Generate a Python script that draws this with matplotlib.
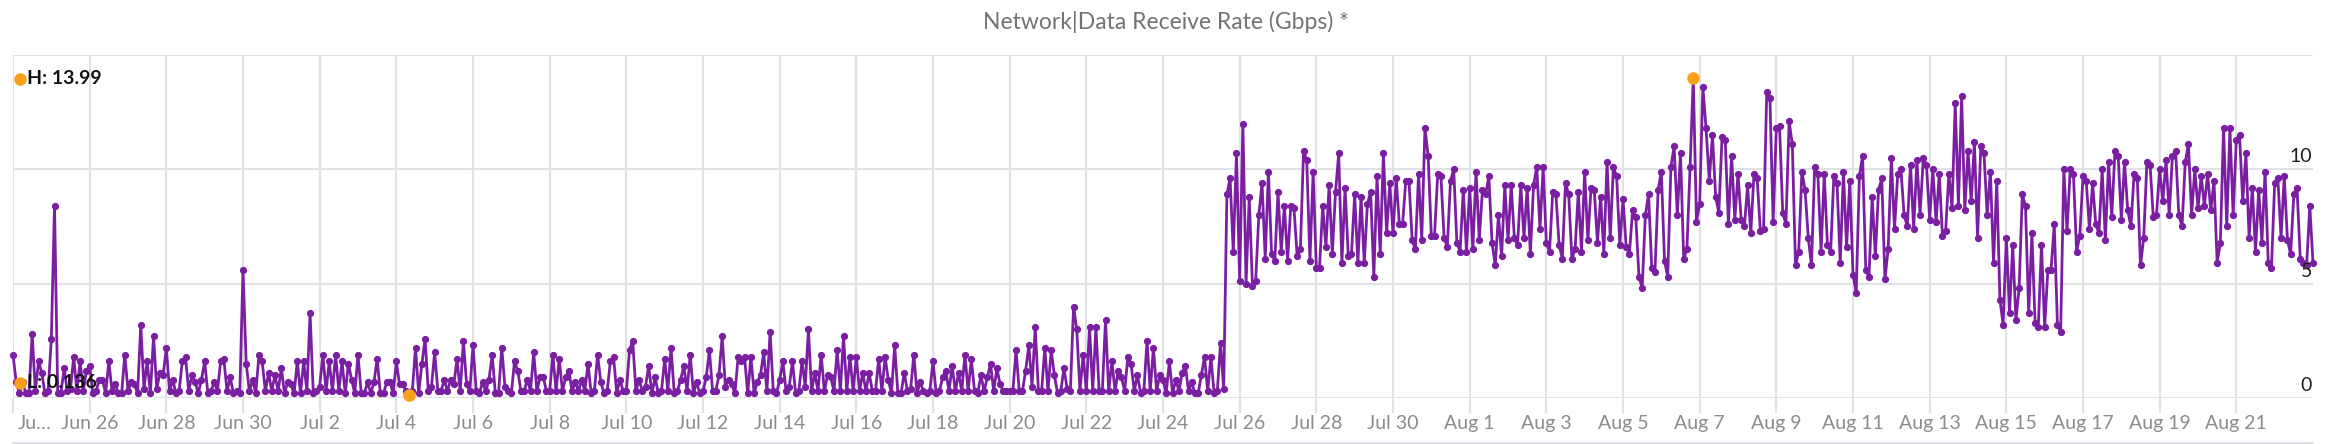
import numpy as np
import pandas as pd
import matplotlib
matplotlib.use("Agg")
import matplotlib.pyplot as plt
from matplotlib.lines import Line2D
from matplotlib.transforms import blended_transform_factory, offset_copy

plt.rcParams['font.family'] = ['Lato', 'DejaVu Sans']

# 2-hourly samples, 12 per day, starting Jun 24 00:00
start = "2023-06-24"
step = "2h"
title = "Network|Data Receive Rate (Gbps) *"
y_labels = [0, 5, 10]

june = [
    [1.9, 0.7, 0.2, 0.7, 0.2, 0.2, 2.8, 0.3, 1.6, 1.1, 0.2, 0.3],   # 24
    [2.6, 8.4, 0.2, 0.2, 1.3, 0.3, 0.4, 1.8, 0.3, 1.6, 0.3, 1.2],   # 25
    [1.4, 0.2, 0.3, 0.8, 0.8, 0.2, 1.6, 0.3, 0.6, 0.2, 0.2, 1.9],   # 26
    [0.3, 0.7, 0.6, 0.2, 3.2, 0.4, 1.6, 0.2, 2.7, 0.4, 1.1, 1.0],   # 27
    [2.2, 0.3, 0.8, 0.2, 0.3, 1.6, 1.8, 0.3, 1.0, 0.7, 0.2, 0.8],   # 28
    [1.6, 0.2, 0.3, 0.7, 0.3, 1.6, 1.7, 0.3, 0.9, 0.2, 0.3, 0.2],   # 29
    [5.6, 1.5, 0.3, 0.8, 0.2, 1.9, 1.6, 0.3, 1.1, 0.3, 1.0, 0.3],   # 30
]

july = [
    [1.3, 0.2, 0.7, 0.6, 0.2, 1.6, 0.2, 1.6, 0.3, 3.7, 0.2, 0.3],   # 1
    [0.5, 1.9, 0.3, 1.6, 0.3, 1.9, 0.3, 1.6, 0.2, 1.5, 0.8, 0.2],   # 2
    [1.9, 0.2, 0.2, 0.7, 0.2, 0.7, 1.7, 0.2, 0.2, 0.7, 0.7, 0.2],   # 3
    [1.6, 0.6, 0.6, 0.3, 0.136, 0.3, 2.2, 0.2, 1.5, 2.6, 0.3, 0.5], # 4
    [2.0, 0.3, 0.3, 0.8, 0.3, 0.8, 0.6, 1.7, 0.3, 2.5, 0.6, 0.3],   # 5
    [2.3, 0.3, 0.2, 0.7, 0.3, 0.8, 1.9, 0.2, 0.2, 2.2, 0.5, 0.3],   # 6
    [0.2, 1.6, 1.2, 0.3, 0.3, 0.8, 0.3, 2.0, 0.3, 0.9, 0.9, 0.3],   # 7
    [0.3, 1.9, 0.3, 1.7, 0.3, 0.9, 1.2, 0.3, 0.7, 0.3, 0.8, 0.3],   # 8
    [1.5, 0.2, 0.3, 1.9, 0.7, 0.2, 0.3, 1.6, 1.8, 0.2, 0.8, 0.3],   # 9
    [0.3, 2.1, 2.5, 0.3, 0.8, 0.3, 0.5, 1.4, 0.2, 0.9, 0.2, 0.3],   # 10
    [1.7, 0.3, 2.2, 0.2, 0.3, 0.8, 1.4, 0.3, 1.9, 0.2, 0.7, 0.2],   # 11
    [0.3, 0.9, 2.1, 0.3, 0.3, 1.0, 2.7, 0.5, 0.8, 0.6, 0.2, 1.8],   # 12
    [1.6, 1.8, 0.2, 1.8, 0.2, 0.7, 1.0, 2.0, 0.3, 2.9, 0.3, 0.2],   # 13
    [0.8, 1.6, 0.3, 0.5, 1.6, 0.2, 0.3, 1.6, 0.5, 3.0, 0.3, 1.1],   # 14
    [0.3, 1.9, 0.3, 1.0, 0.9, 0.3, 2.1, 0.3, 2.7, 0.3, 1.8, 0.3],   # 15
    [1.8, 0.3, 1.1, 0.3, 1.1, 0.3, 0.3, 1.7, 0.3, 1.8, 0.8, 0.2],   # 16
    [2.3, 0.2, 0.2, 1.1, 0.3, 0.4, 1.9, 0.2, 0.7, 0.3, 0.2, 0.3],   # 17
    [1.6, 0.2, 0.3, 0.9, 1.2, 0.3, 1.4, 0.3, 1.1, 0.3, 1.9, 0.3],   # 18
    [1.7, 0.3, 0.2, 1.0, 0.3, 0.9, 1.5, 0.3, 1.3, 0.6, 0.3, 0.3],   # 19
    [0.3, 0.3, 2.1, 0.3, 0.3, 1.2, 2.3, 0.5, 3.1, 0.3, 0.3, 2.2],   # 20
    [0.3, 2.1, 1.0, 0.2, 0.3, 1.3, 0.4, 0.3, 4.0, 3.0, 0.3, 1.9],   # 21
    [0.3, 3.1, 0.3, 3.1, 0.3, 0.3, 3.4, 0.3, 1.6, 0.3, 1.2, 0.9],   # 22
    [0.3, 1.8, 1.5, 0.3, 1.0, 0.2, 0.3, 2.5, 0.3, 2.2, 0.3, 1.0],   # 23
    [0.8, 0.2, 1.6, 0.2, 0.8, 0.3, 1.1, 1.4, 0.3, 0.7, 0.2, 0.2],   # 24
    [1.0, 1.8, 0.3, 1.8, 0.2, 0.3, 2.4, 0.4, 8.9, 9.6, 6.4, 10.7],  # 25
    [5.1, 12.0, 5.0, 8.8, 4.9, 5.1, 8.0, 9.4, 6.1, 9.9, 6.3, 6.0],  # 26
    [9.0, 6.4, 8.4, 6.0, 8.4, 8.3, 6.2, 6.5, 10.8, 10.4, 6.0, 9.9], # 27
    [5.7, 5.7, 8.4, 6.6, 9.3, 6.3, 9.0, 10.7, 5.9, 9.2, 6.2, 6.3],  # 28
    [8.9, 5.9, 8.8, 5.9, 8.5, 9.0, 5.3, 9.7, 6.3, 10.7, 7.2, 9.4],  # 29
    [7.2, 9.6, 7.6, 7.6, 9.5, 9.5, 6.9, 6.5, 9.8, 6.9, 11.8, 10.6], # 30
    [7.1, 7.1, 9.8, 9.7, 7.0, 6.6, 9.5, 10.0, 6.8, 6.4, 9.1, 6.4],  # 31
]

august = [
    [9.2, 6.5, 9.9, 6.9, 9.1, 8.9, 9.7, 6.8, 5.8, 8.0, 6.2, 9.3],     # 1
    [6.9, 9.3, 7.0, 6.7, 9.3, 7.0, 9.2, 6.3, 9.3, 10.1, 7.4, 10.1],   # 2
    [6.8, 6.4, 9.0, 8.9, 6.7, 6.1, 9.4, 8.9, 6.1, 6.5, 9.0, 6.4],     # 3
    [9.9, 6.9, 9.2, 9.1, 6.8, 8.8, 6.3, 10.3, 7.0, 10.1, 9.7, 6.7],   # 4
    [8.7, 6.6, 6.3, 8.2, 7.9, 5.3, 4.8, 8.0, 8.9, 5.7, 5.5, 9.1],     # 5
    [9.9, 6.0, 5.3, 10.1, 11.0, 8.0, 10.7, 6.1, 6.5, 10.1, 13.99, 7.7], # 6
    [8.5, 13.6, 11.8, 9.5, 11.5, 8.8, 8.1, 11.4, 11.3, 7.6, 10.6, 7.8], # 7
    [9.8, 7.8, 7.5, 9.3, 7.2, 9.8, 9.6, 7.3, 7.4, 13.4, 13.1, 7.7],   # 8
    [11.8, 11.9, 8.1, 7.6, 12.1, 11.1, 5.8, 6.4, 9.9, 9.1, 7.0, 5.8], # 9
    [10.1, 9.8, 6.4, 9.8, 6.7, 6.4, 9.7, 9.4, 5.9, 9.9, 6.6, 9.5],    # 10
    [5.4, 4.6, 9.7, 10.6, 5.6, 5.3, 8.8, 6.2, 9.1, 9.6, 5.2, 6.5],    # 11
    [10.5, 7.4, 9.8, 10.0, 8.0, 7.5, 10.2, 7.4, 10.4, 8.0, 10.5, 10.2], # 12
    [7.8, 10.0, 7.7, 9.8, 7.1, 7.3, 9.8, 8.3, 12.9, 8.4, 13.2, 8.2],  # 13
    [10.8, 8.6, 11.2, 7.0, 11.0, 10.7, 8.0, 9.9, 5.9, 9.5, 4.3, 3.2], # 14
    [7.0, 3.7, 6.7, 3.4, 4.8, 8.9, 8.4, 3.7, 7.2, 3.3, 3.1, 6.7],     # 15
    [3.1, 5.6, 5.6, 7.6, 3.2, 2.9, 10.0, 7.3, 10.0, 9.8, 6.4, 7.1],   # 16
    [9.7, 9.5, 7.4, 9.4, 7.6, 7.2, 10.0, 6.9, 10.3, 7.9, 10.8, 10.6], # 17
    [7.8, 10.3, 8.2, 7.5, 9.8, 9.6, 5.8, 7.0, 10.3, 10.2, 7.9, 8.0],  # 18
    [10.0, 8.6, 10.4, 8.0, 10.6, 10.8, 8.0, 7.5, 10.3, 11.1, 8.0, 10.0], # 19
    [8.3, 9.7, 8.4, 9.8, 8.2, 9.5, 5.9, 6.8, 11.8, 7.5, 11.8, 8.0],   # 20
    [11.3, 11.5, 8.6, 10.7, 7.0, 9.2, 6.4, 9.1, 6.8, 9.9, 5.9, 5.7],  # 21
    [9.4, 9.6, 7.0, 9.7, 6.9, 6.3, 8.9, 9.2, 6.1, 5.9, 5.8, 8.4],     # 22
]
last_value = 5.9  # Aug 23 00:00

values = np.concatenate([np.ravel(june), np.ravel(july), np.ravel(august), [last_value]])
times = pd.date_range(start, periods=len(values), freq=step)

purple = '#7a1fa2'
orange = '#f9a11b'
grid_c = '#e0e2e6'
tick_c = '#8c8c8c'

W, H = 2332, 444
fig = plt.figure(figsize=(W / 100, H / 100), dpi=100)
ax = fig.add_axes([13 / W, 46 / H, 2300 / W, 343 / H])

ax.set_xlim(times[0], times[-1])
ax.set_ylim(0, 15)
for s in ax.spines.values():
    s.set_visible(False)

ax.set_yticks([0, 5, 10, 15])
ax.tick_params(axis='y', length=0, labelleft=False)
ax.yaxis.grid(True, color=grid_c, lw=1.5)

xt = pd.date_range(start, "2023-08-21", freq="2D")
ax.set_xticks(xt)
labels = [f"{d:%b} {d.day}" for d in xt]
labels[0] = ""
ax.set_xticklabels(labels)
ax.tick_params(axis='x', direction='out', length=10.8, width=1.5, color=grid_c,
               labelcolor=tick_c, labelsize=14, pad=1.5)
ax.xaxis.grid(True, color=grid_c, lw=1.5)
ax.set_axisbelow(True)

# truncated first tick label
tb = blended_transform_factory(ax.transData, ax.transAxes)
ax.text(xt[0], 0, "Ju…", transform=offset_copy(tb, fig, x=5, y=-17, units='dots'),
        ha='left', va='top', fontsize=14, color=tick_c)

ax.plot(times, values, color=purple, lw=2.0, marker='o', ms=4.2, zorder=3, clip_on=False)

imax = int(np.argmax(values))
imin = int(np.argmin(values))
ax.plot([times[imax], times[imin]], [values[imax], values[imin]], 'o', color=orange,
        ms=8, zorder=4, clip_on=False)

# right side value labels
ty = blended_transform_factory(ax.transAxes, ax.transData)
for v in y_labels:
    ax.text(1, v, str(v), transform=offset_copy(ty, fig, x=-1, y=4, units='dots'),
            ha='right', va='bottom', fontsize=14, color='#1f1f1f')

fig.text(0.5, 1 - 22 / H, title, ha='center', va='center', fontsize=16.5, color='#737373')

# high / low annotations
for ypx, txt in [(79, f"H: {values[imax]:.2f}"), (383, f"L: {values[imin]:.3f}")]:
    fig.add_artist(Line2D([20 / W], [1 - ypx / H], marker='o', ms=8, color=orange,
                          transform=fig.transFigure))
    fig.text(27 / W, 1 - ypx / H, txt, ha='left', va='center', fontsize=14,
             weight='bold', color='#111111', zorder=10)

fig.add_artist(Line2D([13 / W, 2313 / W], [1.5 / H, 1.5 / H], color=grid_c, lw=1.5,
                      transform=fig.transFigure))

fig.savefig('out.png', dpi=100)
